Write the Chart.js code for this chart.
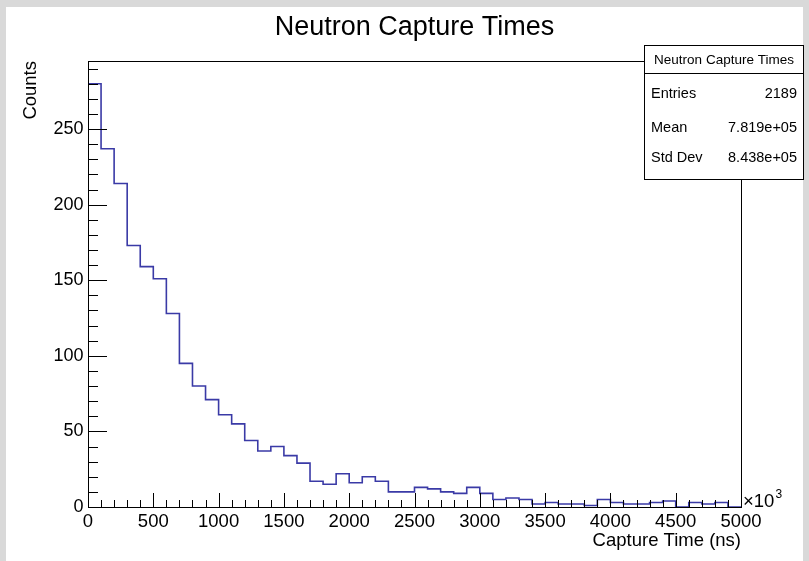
<!DOCTYPE html>
<html>
<head>
<meta charset="utf-8">
<script src="https://cdn.jsdelivr.net/npm/chart.js@4/dist/chart.umd.min.js"></script>
<style>
  html, body { margin: 0; padding: 0; background: #d9d9d9; }
  #wrap { position: absolute; left: 0; top: 0; width: 809px; height: 561px; }
</style>
</head>
<body>
<div id="wrap"><canvas id="c" width="809" height="561"></canvas></div>
<script>
// ---- data ----
const binLowEdges = [0,100,200,300,400,500,600,700,800,900,
  1000,1100,1200,1300,1400,1500,1600,1700,1800,1900,
  2000,2100,2200,2300,2400,2500,2600,2700,2800,2900,
  3000,3100,3200,3300,3400,3500,3600,3700,3800,3900,
  4000,4100,4200,4300,4400,4500,4600,4700,4800,4900];
const binUpperEnd = 5000;
const counts = [280,237,214,173,159,151,128,95,80,71,
  61,55,44,37,40,34,29,17,15,22,
  16,20,17,10,10,13,12,10,9,13,
  9,5,6,5,2,3,2,2,1,5,
  3,2,2,3,4,0,3,2,3,0];
const xTickValues = [0,500,1000,1500,2000,2500,3000,3500,4000,4500,5000];
const yTickValues = [0,50,100,150,200,250];
const chartTitle = "Neutron Capture Times";
const xTitle = "Capture Time (ns)";
const yTitle = "Counts";
const statsTitle = "Neutron Capture Times";
const statsLabels = ["Entries","Mean","Std Dev"];
const statsValues = ["2189","7.819e+05","8.438e+05"];

const FONT = "'Liberation Sans', Arial, Helvetica, sans-serif";

const histPoints = [{x: binLowEdges[0], y: 0}];
binLowEdges.forEach((e, i) => histPoints.push({x: e, y: counts[i]}));
histPoints.push({x: binUpperEnd, y: counts[counts.length - 1]});

const rootPlugin = {
  id: 'rootStyle',
  beforeDraw(chart) {
    const ctx = chart.ctx;
    ctx.save();
    ctx.fillStyle = '#d9d9d9';
    ctx.fillRect(0, 0, chart.width, chart.height);
    ctx.fillStyle = '#ffffff';
    ctx.fillRect(6, 7, 797, 554);
    ctx.restore();
  },
  afterDatasetsDraw(chart) {
    const ctx = chart.ctx;
    const xs = chart.scales.x, ys = chart.scales.y;
    const a = chart.chartArea;
    ctx.save();
    ctx.strokeStyle = '#000';
    ctx.lineWidth = 1;
    // frame
    ctx.strokeRect(Math.round(a.left) + 0.5, Math.round(a.top) + 0.5,
      Math.round(a.right - a.left), Math.round(a.bottom - a.top));
    // x ticks (inward)
    ctx.beginPath();
    for (let v = xs.min; v <= xs.max + 1e-6; v += 100) {
      const px = Math.round(xs.getPixelForValue(v)) + 0.5;
      const len = (Math.round(v) % 500 === 0) ? 14 : 7;
      ctx.moveTo(px, a.bottom);
      ctx.lineTo(px, a.bottom - len);
    }
    // y ticks (inward)
    for (let v = 0; v <= ys.max; v += 10) {
      const py = Math.round(ys.getPixelForValue(v)) + 0.5;
      const len = (Math.round(v) % 50 === 0) ? 19 : 10;
      ctx.moveTo(a.left, py);
      ctx.lineTo(a.left + len, py);
    }
    ctx.stroke();

    // x10^3 multiplier
    ctx.fillStyle = '#000';
    ctx.textBaseline = 'alphabetic';
    ctx.textAlign = 'left';
    ctx.font = '18.5px ' + FONT;
    ctx.fillText('\u00d710', a.right + 2, a.bottom);
    const w = ctx.measureText('\u00d710').width;
    ctx.font = '12px ' + FONT;
    ctx.fillText('3', a.right + 2 + w + 1, a.bottom - 9);

    // stats box
    const bx = 644.5, by = 45.5, bw = 159, bh = 134;
    ctx.fillStyle = '#fff';
    ctx.fillRect(bx, by, bw, bh);
    ctx.strokeRect(bx, by, bw, bh);
    ctx.beginPath();
    ctx.moveTo(bx, 73.5);
    ctx.lineTo(bx + bw, 73.5);
    ctx.stroke();
    ctx.fillStyle = '#000';
    ctx.font = '13.5px ' + FONT;
    ctx.textAlign = 'center';
    ctx.textBaseline = 'middle';
    ctx.fillText(statsTitle, bx + bw / 2, 60);
    ctx.font = '14.5px ' + FONT;
    const rowY = [94, 128, 158];
    statsLabels.forEach((lab, i) => {
      ctx.textAlign = 'left';
      ctx.fillText(lab, 651, rowY[i]);
      ctx.textAlign = 'right';
      ctx.fillText(statsValues[i], 797, rowY[i]);
    });
    ctx.restore();
  }
};

new Chart(document.getElementById('c'), {
  type: 'line',
  data: {
    datasets: [{
      data: histPoints,
      stepped: true,
      borderColor: '#3a3aa6',
      borderWidth: 1.6,
      pointRadius: 0,
      fill: false,
      tension: 0
    }]
  },
  options: {
    responsive: false,
    animation: false,
    devicePixelRatio: 1,
    layout: { padding: { left: 0, right: 68, top: 0, bottom: 0 } },
    plugins: {
      legend: { display: false },
      tooltip: { enabled: false },
      title: {
        display: true,
        text: chartTitle,
        fullSize: false,
        color: '#000',
        font: { family: FONT, size: 27, weight: 'normal' },
        padding: { top: 11, bottom: 17.6 }
      }
    },
    scales: {
      x: {
        type: 'linear',
        min: 0, max: 5000,
        afterFit(s) { s.height = 54; },
        afterBuildTicks(s) { s.ticks = xTickValues.map(v => ({ value: v })); },
        grid: { display: false, drawTicks: false },
        border: { display: false },
        ticks: {
          color: '#000', padding: 3.5, maxRotation: 0, autoSkip: false,
          font: { family: FONT, size: 18.5 },
          callback: v => String(v)
        },
        title: {
          display: true, text: xTitle, align: 'end', color: '#000',
          font: { family: FONT, size: 18.5 },
          padding: { top: 0, bottom: 9 }
        }
      },
      y: {
        type: 'linear',
        min: 0, max: 295,
        afterFit(s) { s.width = 88; },
        afterBuildTicks(s) { s.ticks = yTickValues.map(v => ({ value: v })); },
        grid: { display: false, drawTicks: false },
        border: { display: false },
        ticks: {
          color: '#000', padding: 4.5, autoSkip: false,
          font: { family: FONT, size: 18 },
          callback: v => String(v)
        },
        title: {
          display: true, text: yTitle, align: 'end', color: '#000',
          font: { family: FONT, size: 18.5 },
          padding: { top: 19.4, bottom: 0 }
        }
      }
    }
  },
  plugins: [rootPlugin]
});
</script>
</body>
</html>
